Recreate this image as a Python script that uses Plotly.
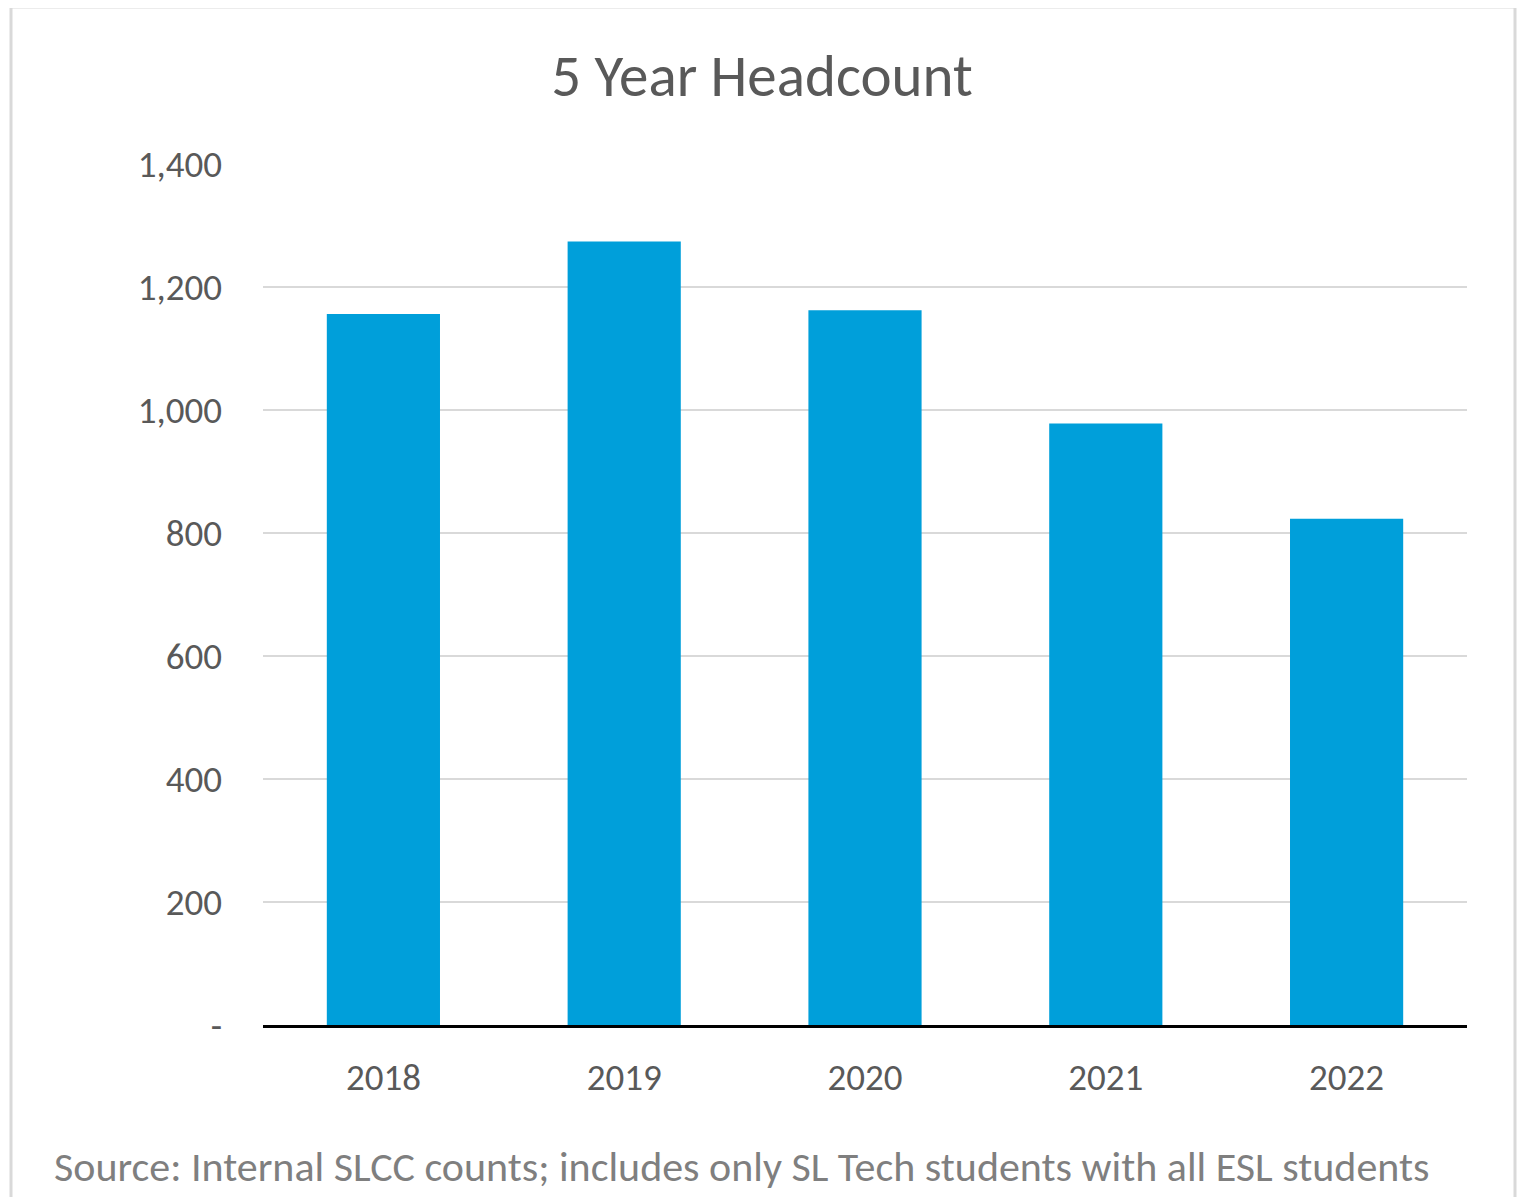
import plotly.graph_objects as go

years = ["2018", "2019", "2020", "2021", "2022"]
headcount = [1156, 1274, 1162, 978, 823]
y_tickvals = [0, 200, 400, 600, 800, 1000, 1200, 1400]
y_ticktext = ["-", "200", "400", "600", "800", "1,000", "1,200", "1,400"]

FONT = "Carlito, Lato, sans-serif"
GRAY = "#595959"

OFF = 8  # page body margin
W, H = 1529 - OFF, 1197 - OFF
L, T = 263 - OFF, 164 - OFF
R = (1529 - OFF) - (1467 - OFF) - 0
R = W - (1467 - OFF)
B = H - (1025 - OFF)
pw, ph = W - L - R, H - T - B

def px(x):
    return (x - OFF - L) / pw

def py(y):
    return (H - B - (y - OFF)) / ph

fig = go.Figure(go.Bar(
    x=years, y=headcount,
    marker=dict(color="#009FDA", line=dict(width=0)),
    width=0.47,
))

fig.update_layout(
    width=W, height=H,
    margin=dict(l=L, r=R, t=T, b=B),
    paper_bgcolor="white", plot_bgcolor="white",
    showlegend=False,
    title=dict(text="5 Year Headcount", x=(762 - OFF) / W, xanchor="center",
               y=1 - (75 - OFF) / H, yanchor="middle",
               font=dict(family=FONT, size=59, color=GRAY)),
    xaxis=dict(showgrid=False, showline=True, linecolor="#000000", linewidth=3,
               ticks="", tickfont=dict(family=FONT, size=37, color=GRAY),
               ticklabelstandoff=18),
    yaxis=dict(range=[0, 1400], tickvals=y_tickvals, ticktext=y_ticktext,
               showgrid=True, gridcolor="#D9D9D9", gridwidth=2,
               zeroline=False, showline=False, ticks="",
               tickfont=dict(family=FONT, size=37, color=GRAY),
               ticklabelstandoff=40),
    shapes=[dict(type="rect", xref="paper", yref="paper",
                 x0=px(11), x1=px(1515), y0=py(1215), y1=py(7),
                 line=dict(color="#D9D9D9", width=3), fillcolor="rgba(0,0,0,0)",
                 layer="below")],
    annotations=[dict(text="Source: Internal SLCC counts; includes only SL Tech students with all ESL students",
                      xref="paper", yref="paper", x=px(52), y=py(1166),
                      xanchor="left", yanchor="middle", showarrow=False,
                      font=dict(family=FONT, size=42, color="#7F7F7F"))],
)

fig.write_html("out.html")
